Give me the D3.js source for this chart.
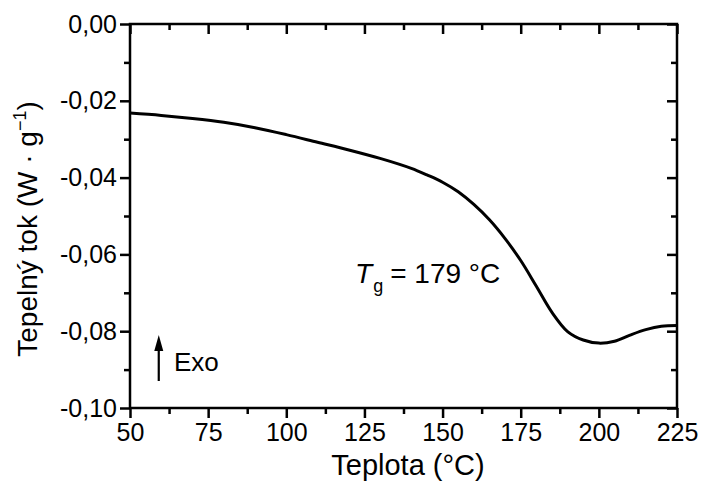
<!DOCTYPE html>
<html>
<head>
<meta charset="utf-8">
<script src="https://cdn.jsdelivr.net/npm/d3@7"></script>
<style>
  body { margin: 0; background: #fff; }
  text { font-family: "Liberation Sans", Arial, sans-serif; fill: #000; }
</style>
</head>
<body>
<div id="vis"></div>
<script>
// data
const temps = [50, 60, 70, 80, 90, 100, 110, 120, 130, 140, 145, 150, 155, 160, 165, 170,
               175, 180, 185, 190, 195, 200, 205, 210, 215, 220, 225];
const flow = [-0.0232, -0.0238, -0.0246, -0.0256, -0.0270, -0.0288, -0.0308, -0.0328,
              -0.0350, -0.0376, -0.0393, -0.0412, -0.0437, -0.0470, -0.0510, -0.0559,
              -0.0616, -0.0683, -0.0751, -0.0801, -0.0823, -0.0831, -0.0826, -0.0810,
              -0.0796, -0.0787, -0.0785];
const xTicks = [50, 75, 100, 125, 150, 175, 200, 225];
const yTicks = [0, -0.02, -0.04, -0.06, -0.08, -0.10];

const FRAME_WIDTH = 703;
const FRAME_HEIGHT = 489;
const MARGINS = {left: 130, right: 26, top: 24, bottom: 81};
const VIS_WIDTH = FRAME_WIDTH - MARGINS.left - MARGINS.right;
const VIS_HEIGHT = FRAME_HEIGHT - MARGINS.top - MARGINS.bottom;

const svg = d3.select('#vis')
  .append('svg')
  .attr('width', FRAME_WIDTH)
  .attr('height', FRAME_HEIGHT);

const g = svg.append('g')
  .attr('transform', `translate(${MARGINS.left},${MARGINS.top})`);

const x = d3.scaleLinear().domain([50, 225]).range([0, VIS_WIDTH]);
const y = d3.scaleLinear().domain([-0.10, 0]).range([VIS_HEIGHT, 0]);

const fmt = d => d3.format('.2f')(d).replace('.', ',').replace('−', '-');
const minorX = d3.range(62.5, 225, 25);
const minorY = d3.range(-0.09, 0, 0.02);

function styleAxis(sel) {
  sel.select('.domain').remove();
  sel.selectAll('line').attr('stroke', '#000').attr('stroke-width', 2.5);
  sel.selectAll('text').attr('font-size', '25px')
    .style('font-family', '"Liberation Sans", Arial, sans-serif');
}

// bottom axis (ticks outward)
g.append('g').attr('transform', `translate(0,${VIS_HEIGHT})`)
  .call(d3.axisBottom(x).tickValues(xTicks).tickSize(10).tickPadding(5).tickFormat(d3.format('d')))
  .call(styleAxis);
g.append('g').attr('transform', `translate(0,${VIS_HEIGHT})`)
  .call(d3.axisBottom(x).tickValues(minorX).tickSize(6).tickFormat(''))
  .call(styleAxis);

// left axis (ticks outward)
g.append('g')
  .call(d3.axisLeft(y).tickValues(yTicks).tickSize(10).tickPadding(3).tickFormat(fmt))
  .call(styleAxis);
g.append('g')
  .call(d3.axisLeft(y).tickValues(minorY).tickSize(6).tickFormat(''))
  .call(styleAxis);

// top axis (ticks inward)
g.append('g')
  .call(d3.axisTop(x).tickValues(xTicks).tickSize(-10).tickFormat(''))
  .call(styleAxis);
g.append('g')
  .call(d3.axisTop(x).tickValues(minorX).tickSize(-6).tickFormat(''))
  .call(styleAxis);

// right axis (ticks inward)
g.append('g').attr('transform', `translate(${VIS_WIDTH},0)`)
  .call(d3.axisRight(y).tickValues(yTicks).tickSize(-10).tickFormat(''))
  .call(styleAxis);
g.append('g').attr('transform', `translate(${VIS_WIDTH},0)`)
  .call(d3.axisRight(y).tickValues(minorY).tickSize(-6).tickFormat(''))
  .call(styleAxis);

// frame
g.append('rect')
  .attr('width', VIS_WIDTH).attr('height', VIS_HEIGHT)
  .attr('fill', 'none').attr('stroke', '#000').attr('stroke-width', 2.5);

// curve
const line = d3.line()
  .x((d, i) => x(temps[i]))
  .y(d => y(d))
  .curve(d3.curveCatmullRom.alpha(0.5));

g.append('path')
  .datum(flow)
  .attr('d', line)
  .attr('fill', 'none')
  .attr('stroke', '#000')
  .attr('stroke-width', 3);

// annotation Tg
const tg = g.append('text')
  .attr('x', x(122)).attr('y', y(-0.0674))
  .attr('font-size', '28px');
tg.append('tspan').attr('font-style', 'italic').text('T');
tg.append('tspan').attr('font-size', '18px').attr('dy', 9).attr('dx', 1).text('g');
tg.append('tspan').attr('dy', -9).attr('dx', 7).text('= 179 °C');

// Exo arrow
const ax = x(59.2);
g.append('line')
  .attr('x1', ax).attr('x2', ax)
  .attr('y1', 381 - MARGINS.top).attr('y2', 346 - MARGINS.top)
  .attr('stroke', '#000').attr('stroke-width', 2.2);
g.append('path')
  .attr('d', d3.line()([[ax - 4.5, 351 - MARGINS.top], [ax, 335 - MARGINS.top], [ax + 4.5, 351 - MARGINS.top]]) + 'Z')
  .attr('fill', '#000');

g.append('text')
  .attr('x', 174 - MARGINS.left).attr('y', 371 - MARGINS.top)
  .attr('font-size', '26px')
  .text('Exo');

// axis titles
svg.append('text')
  .attr('x', 408)
  .attr('y', 475)
  .attr('text-anchor', 'middle')
  .attr('font-size', '29px')
  .text('Teplota (°C)');

const yl = svg.append('text')
  .attr('transform', 'translate(37,229) rotate(-90)')
  .attr('text-anchor', 'middle')
  .attr('font-size', '28px');
yl.append('tspan').text('Tepelný tok (W · g');
yl.append('tspan').attr('font-size', '18px').attr('dy', -11).text('−1');
yl.append('tspan').attr('dy', 11).text(')');
</script>
</body>
</html>
